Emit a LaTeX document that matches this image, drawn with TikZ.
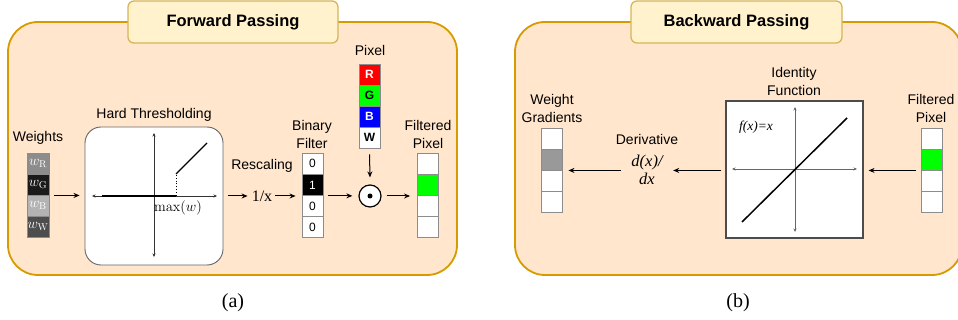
\documentclass[tikz,border=0pt]{standalone}
\usepackage[no-math]{fontspec}
\setmainfont{Liberation Sans}
\newfontfamily\seriffont{Liberation Serif}
\usetikzlibrary{arrows.meta,calc}
\definecolor{panelfill}{HTML}{FFE6CC}
\definecolor{panelborder}{HTML}{D79B00}
\definecolor{titlefill}{HTML}{FFF2CC}
\definecolor{titleborder}{HTML}{D6B656}
\definecolor{cellgray}{HTML}{8C8C8C}
\definecolor{wRc}{HTML}{8C8C8C}
\definecolor{wGc}{HTML}{1A1A1A}
\definecolor{wBc}{HTML}{B3B3B3}
\definecolor{wWc}{HTML}{4D4D4D}
\definecolor{gradc}{HTML}{999999}
\definecolor{pixR}{HTML}{FF0000}
\definecolor{pixG}{HTML}{00FF00}
\definecolor{pixB}{HTML}{0000FF}
\definecolor{axisc}{HTML}{333333}
\definecolor{axisb}{HTML}{666666}
\tikzset{
  panel/.style={rounded corners=30pt, fill=panelfill, draw=panelborder, line width=1.8pt},
  titlebox/.style={rounded corners=6pt, fill=titlefill, draw=titleborder, line width=1.3pt,
    minimum width=210pt, minimum height=42pt, font=\fontsize{16.5}{18}\selectfont\bfseries},
  lbl/.style={font=\fontsize{14}{18}\selectfont, align=center, inner sep=0pt},
  cell/.style={draw=cellgray, line width=0.9pt, fill=white, minimum width=21pt, minimum height=21pt,
    inner sep=0pt, font=\fontsize{12}{12}\selectfont},
  wcell/.style={cell, minimum width=22pt, text=white, font=\fontsize{14.5}{14}\selectfont},
  pcell/.style={cell, font=\fontsize{12}{12}\selectfont\bfseries},
  arr/.style={-{Stealth[length=6pt,width=5pt]}, line width=1pt},
  axarr/.style={{Stealth[length=3.5pt,width=3pt]}-{Stealth[length=3.5pt,width=3pt]}, line width=0.8pt},
  capt/.style={font=\seriffont\fontsize{20}{22}\selectfont, inner sep=0pt},
}
\begin{document}
\begin{tikzpicture}[x=1pt,y=-1pt]
\useasboundingbox (0,0) rectangle (958,320);
\clip (0,0) rectangle (958,320);

% ---------- panels ----------
\draw[panel] (8,22) rectangle (457,275);
\draw[panel] (515,22) rectangle (962,275);
\node[titlebox] (tA) at (233,22) {Forward Passing};
\node[titlebox, minimum width=211pt] (tB) at (736.5,22) {Backward Passing};

% ---------- (a) Weights ----------
\node[lbl] (wlab) at (38,138) {Weights};
\node[wcell, fill=wRc] (wR) at (38,163.5) {$w_{\mathrm{R}}$};
\node[wcell, fill=wGc] (wG) at (38,184.5) {$w_{\mathrm{G}}$};
\node[wcell, fill=wBc] (wB) at (38,205.5) {$w_{\mathrm{B}}$};
\node[wcell, fill=wWc] (wW) at (38,226.5) {$w_{\mathrm{W}}$};

% ---------- (a) Hard thresholding ----------
\node[lbl] (htlab) at (154,115) {Hard Thresholding};
\node[draw=black!60, line width=0.9pt, fill=white, rounded corners=16pt,
      minimum width=138pt, minimum height=138pt, inner sep=0pt] (ht) at (154,196) {};
\draw[axarr, axisc] (92,196) -- (217,196);
\draw[axarr, axisc] (154,133) -- (154,257);
\draw[line width=1.8pt] (102,196) -- (176,196);
\draw[dotted, line width=0.9pt] (176,196) -- (176,174);
\draw[line width=1.4pt] (176,174) -- (207,143);
\node[inner sep=0pt, font=\fontsize{14}{14}\selectfont] (mx) at (178,208) {$\max(w)$};

% ---------- (a) Rescaling ----------
\node[lbl] (rlab) at (262,166) {Rescaling};
\node[inner sep=0pt, font=\seriffont\fontsize{16}{16}\selectfont] (resc) at (262,196) {1/x};

% ---------- (a) Binary filter ----------
\node[lbl] (bflab) at (312,134) {Binary\\Filter};
\node[cell] (bf1) at (312.5,163.6) {0};
\node[cell, fill=black, text=white] (bf2) at (312.5,184.9) {1};
\node[cell] (bf3) at (312.5,206.1) {0};
\node[cell] (bf4) at (312.5,227.4) {0};

% ---------- (a) Pixel ----------
\node[lbl] (plab) at (370,50) {Pixel};
\node[pcell, fill=pixR, text=white] (pR) at (369.5,74.5) {R};
\node[pcell, fill=pixG] (pG) at (369.5,95.5) {G};
\node[pcell, fill=pixB, text=white] (pB) at (369.5,116.5) {B};
\node[pcell] (pW) at (369.5,137.5) {W};

% ---------- (a) Hadamard ----------
\node[circle, draw, line width=1.2pt, fill=white, minimum size=22pt, inner sep=0pt] (od) at (370,196) {};
\node[circle, fill=black, minimum size=5pt, inner sep=0pt] (odd) at (od.center) {};

% ---------- (a) Filtered pixel ----------
\node[lbl] (fplab) at (428,134) {Filtered\\Pixel};
\node[cell] (fp1) at (428,163.6) {};
\node[cell, fill=pixG] (fp2) at (428,184.9) {};
\node[cell] (fp3) at (428,206.1) {};
\node[cell] (fp4) at (428,227.4) {};

% ---------- (a) arrows ----------
\draw[arr] ([xshift=5pt]wG.south east) -- ([xshift=-5pt]wG.south east -| ht.west);
\draw[arr] ([xshift=5pt]ht.east) -- ([xshift=-4pt]ht.east -| resc.west);
\draw[arr] ([xshift=3pt]resc.east) -- ([xshift=-6pt]resc.east -| bf2.west);
\draw[arr] ([xshift=5pt]bf2.south east) -- ([xshift=-6pt]bf2.south east -| od.west);
\draw[arr] ([yshift=-6pt]pW.south) -- ([yshift=7pt]od.north);
\draw[arr] ([xshift=5pt]od.east) -- ([xshift=-7pt]od.east -| fp2.west);

\node[capt] (ca) at (233,303) {(a)};

% ---------- (b) Weight gradients ----------
\node[lbl] (wglab) at (552,108) {Weight\\Gradients};
\node[cell] (gb1) at (551.5,138.5) {};
\node[cell, fill=gradc] (gb2) at (551.5,159.5) {};
\node[cell] (gb3) at (551.5,180.5) {};
\node[cell] (gb4) at (551.5,201.5) {};

% ---------- (b) Derivative ----------
\node[lbl] (dlab) at (647,139) {Derivative};
\node[align=center, inner sep=0pt, minimum width=52pt,
      font=\seriffont\itshape\fontsize{16.5}{18}\selectfont] (dxn) at (647,170) {d(x)/\\dx};

% ---------- (b) Identity function ----------
\node[lbl] (idlab) at (794,81) {Identity\\Function};
\node[draw=black!70, line width=1.1pt, fill=white, minimum width=137pt, minimum height=137pt,
      inner sep=0pt] (id) at (794.5,169.5) {};
\draw[axarr, axisb] (732,169) -- (857,169);
\draw[axarr, axisb] (795,107) -- (795,232);
\draw[line width=1.5pt] (742,222) -- (847,118);
\node[inner sep=0pt, font=\seriffont\itshape\fontsize{13.5}{14}\selectfont] (fx) at (756,127) {f(x)=x};

% ---------- (b) Filtered pixel ----------
\node[lbl] (fblab) at (931,108) {Filtered\\Pixel};
\node[cell] (fb1) at (931.5,138.5) {};
\node[cell, fill=pixG] (fb2) at (931.5,159.5) {};
\node[cell] (fb3) at (931.5,180.5) {};
\node[cell] (fb4) at (931.5,201.5) {};

% ---------- (b) arrows ----------
\draw[arr] ([xshift=-5pt]fb2.south west) -- ([xshift=5pt]fb2.south west -| id.east);
\draw[arr] ([xshift=-4pt]id.west |- fb2.south west) -- (dxn.east |- fb2.south west);
\draw[arr] (dxn.west |- fb2.south west) -- ([xshift=6pt]gb2.south east |- fb2.south west);

\node[capt] (cb) at (738,303) {(b)};
\end{tikzpicture}
\end{document}
